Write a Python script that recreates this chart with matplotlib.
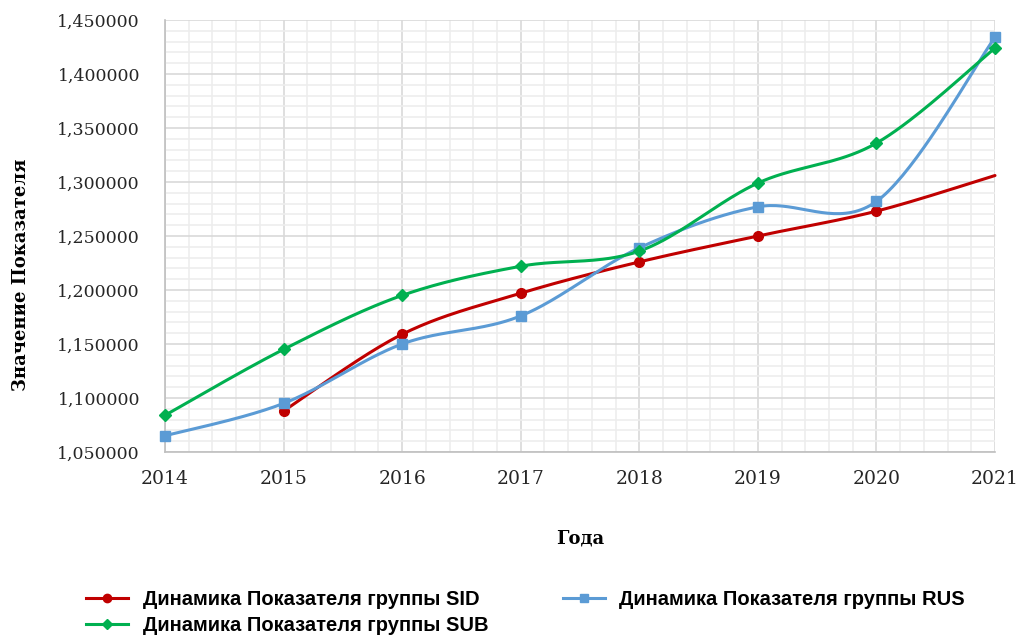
import numpy as np
import matplotlib
matplotlib.use("Agg")
import matplotlib.pyplot as plt
from matplotlib.ticker import MultipleLocator, FuncFormatter

years = [2014, 2015, 2016, 2017, 2018, 2019, 2020, 2021]
sid_years = [2015, 2016, 2017, 2018, 2019, 2020, 2021]
sid = [1.088, 1.159, 1.197, 1.226, 1.250, 1.273, 1.306]
rus = [1.065, 1.095, 1.150, 1.176, 1.239, 1.277, 1.282, 1.434]
sub = [1.084, 1.145, 1.195, 1.222, 1.236, 1.299, 1.336, 1.424]

labels = ["Динамика Показателя группы SID",
          "Динамика Показателя группы RUS",
          "Динамика Показателя группы SUB"]


def smooth(x, y, n=40):
    pts = np.column_stack([np.asarray(x, float), np.asarray(y, float)])
    ext = np.vstack([pts[0], pts, pts[-1]])
    out = []
    t = np.linspace(0, 1, n)[:, None]
    for i in range(len(pts) - 1):
        p0, p1, p2, p3 = ext[i], ext[i + 1], ext[i + 2], ext[i + 3]
        c1 = p1 + (p2 - p0) / 6
        c2 = p2 - (p3 - p1) / 6
        seg = ((1 - t) ** 3) * p1 + 3 * ((1 - t) ** 2) * t * c1 + 3 * (1 - t) * t ** 2 * c2 + t ** 3 * p2
        out.append(seg if i == 0 else seg[1:])
    s = np.vstack(out)
    return s[:, 0], s[:, 1]


fig = plt.figure(figsize=(10.24, 6.37), dpi=100)
ax = fig.add_axes([165 / 1024, 1 - 452 / 637, (995 - 165) / 1024, (452 - 20) / 637])

series = [
    (sid_years, sid, "#C00000", "o", 7, labels[0], len(sid) - 1),
    (years, rus, "#5B9BD5", "s", 7, labels[1], len(rus)),
    (years, sub, "#00B050", "D", 6, labels[2], len(sub)),
]
handles = {}
for xs, ys, col, mk, ms, lab, nmk in series:
    sx, sy = smooth(xs, ys)
    ax.plot(sx, sy, color=col, lw=2.2, zorder=3, solid_capstyle="round", clip_on=False)
    ax.plot(xs[:nmk], ys[:nmk], linestyle="none", marker=mk, color=col, ms=ms, zorder=4, clip_on=False)
    h, = ax.plot([], [], color=col, lw=2.2, marker=mk, ms=ms - 1)
    handles[lab] = h

ax.set_xlim(2014, 2021)
ax.set_ylim(1.05, 1.45)
ax.xaxis.set_major_locator(MultipleLocator(1))
ax.xaxis.set_minor_locator(MultipleLocator(0.2))
ax.yaxis.set_major_locator(MultipleLocator(0.05))
ax.yaxis.set_minor_locator(MultipleLocator(0.01))
ax.yaxis.set_major_formatter(FuncFormatter(lambda v, p: f"{v:.6f}".replace(".", ",")))
ax.grid(which="major", color="#D9D9D9", lw=1.2, zorder=0)
ax.grid(which="minor", color="#EDEDED", lw=1.2, zorder=0)
ax.set_axisbelow(True)
for s in ["top", "right"]:
    ax.spines[s].set_visible(False)
for s in ["left", "bottom"]:
    ax.spines[s].set_color("#BFBFBF")
    ax.spines[s].set_linewidth(1.2)
ax.tick_params(which="both", length=0)
ax.tick_params(axis="x", labelsize=13.5, pad=13, colors="#262626")
ax.tick_params(axis="y", labelsize=12.5, pad=18, colors="#262626")
for lbl in ax.get_xticklabels() + ax.get_yticklabels():
    lbl.set_fontfamily("DejaVu Serif")

ax.set_xlabel("Года", fontsize=13, fontweight="bold", family="DejaVu Serif", labelpad=30)
ax.set_ylabel("Значение Показателя", fontsize=13, fontweight="bold", family="DejaVu Serif")
ax.yaxis.set_label_coords(-0.163, 0.41)

leg = fig.legend([handles[labels[0]], handles[labels[2]], handles[labels[1]]],
                 [labels[0], labels[2], labels[1]],
                 ncol=2, loc="upper left", bbox_to_anchor=(68 / 1024, 1 - 572 / 637),
                 frameon=False, handlelength=2.1, handletextpad=0.7, columnspacing=3.7,
                 labelspacing=0.35,
                 prop={"family": "Liberation Sans", "weight": "bold", "size": 14.5})

fig.savefig("out.png", dpi=100)
